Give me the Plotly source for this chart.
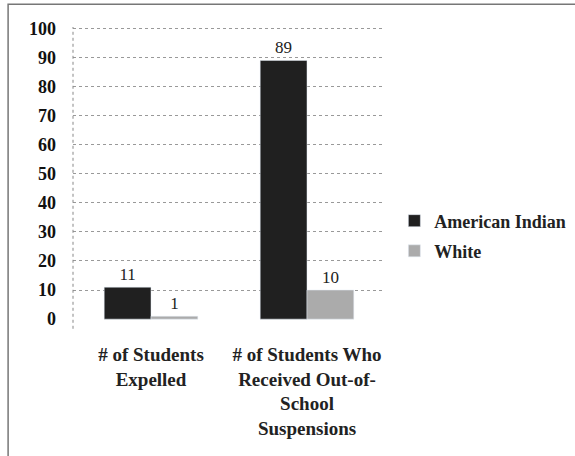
import plotly.graph_objects as go

categories = ["# of Students<br>Expelled", "# of Students Who<br>Received Out-of-<br>School<br>Suspensions"]
american_indian = [11, 89]
white = [1, 10]
y_ticks = [0, 10, 20, 30, 40, 50, 60, 70, 80, 90, 100]

FONT = "Liberation Serif"

fig = go.Figure()
fig.add_trace(go.Bar(name="American Indian", x=categories, y=american_indian,
                     marker=dict(color="#202020"), text=[str(v) for v in american_indian],
                     textposition="outside", textfont=dict(family=FONT, size=17, color="#222"),
                     legend="legend"))
fig.add_trace(go.Bar(name="White", x=categories, y=white,
                     marker=dict(color="#ababab"), text=[str(v) for v in white],
                     textposition="outside", textfont=dict(family=FONT, size=17, color="#222"),
                     legend="legend2"))

legend_common = dict(xanchor="left", yanchor="middle",
                     font=dict(family=FONT, size=18, color="#222", weight="bold"),
                     itemwidth=30, bgcolor="rgba(0,0,0,0)")

fig.update_layout(
    width=575, height=456,
    margin=dict(l=73, r=190, t=27, b=136, autoexpand=False),
    paper_bgcolor="white", plot_bgcolor="white",
    barmode="group", bargap=0.4, bargroupgap=0,
    font=dict(family=FONT, size=17, color="#222"),
    showlegend=True,
    legend=dict(x=1.03, y=0.338, **legend_common),
    legend2=dict(x=1.03, y=0.235, **legend_common),
    xaxis=dict(showgrid=False, showline=False, ticks="",
               tickfont=dict(family=FONT, size=19, color="#222", weight="bold"),
               ticklabelstandoff=21),
    yaxis=dict(range=[-0.3, 100.5], tickvals=y_ticks, ticktext=[str(v) for v in y_ticks],
               showgrid=True, gridcolor="#999", griddash="dot", gridwidth=1,
               showline=False, zeroline=False, ticks="",
               tickfont=dict(family=FONT, size=18, color="#111", weight="bold"),
               ticklabelstandoff=16),
    uniformtext=dict(minsize=10, mode="show"),
)
fig.update_traces(cliponaxis=False)
# dotted vertical axis line
fig.add_shape(type="line", xref="paper", yref="paper", x0=0, x1=0, y0=-0.03, y1=1.0,
              line=dict(color="#888", width=1, dash="dot"))
# Frame: only top and left edges visible inside the picture
fig.add_shape(type="rect", xref="paper", yref="paper",
              x0=-0.208, x1=2.0, y0=-0.7, y1=1.078,
              line=dict(color="#777", width=1.5))
fig.write_html("out.html", config={"displayModeBar": False},
               post_script="document.body.style.margin='0';")
